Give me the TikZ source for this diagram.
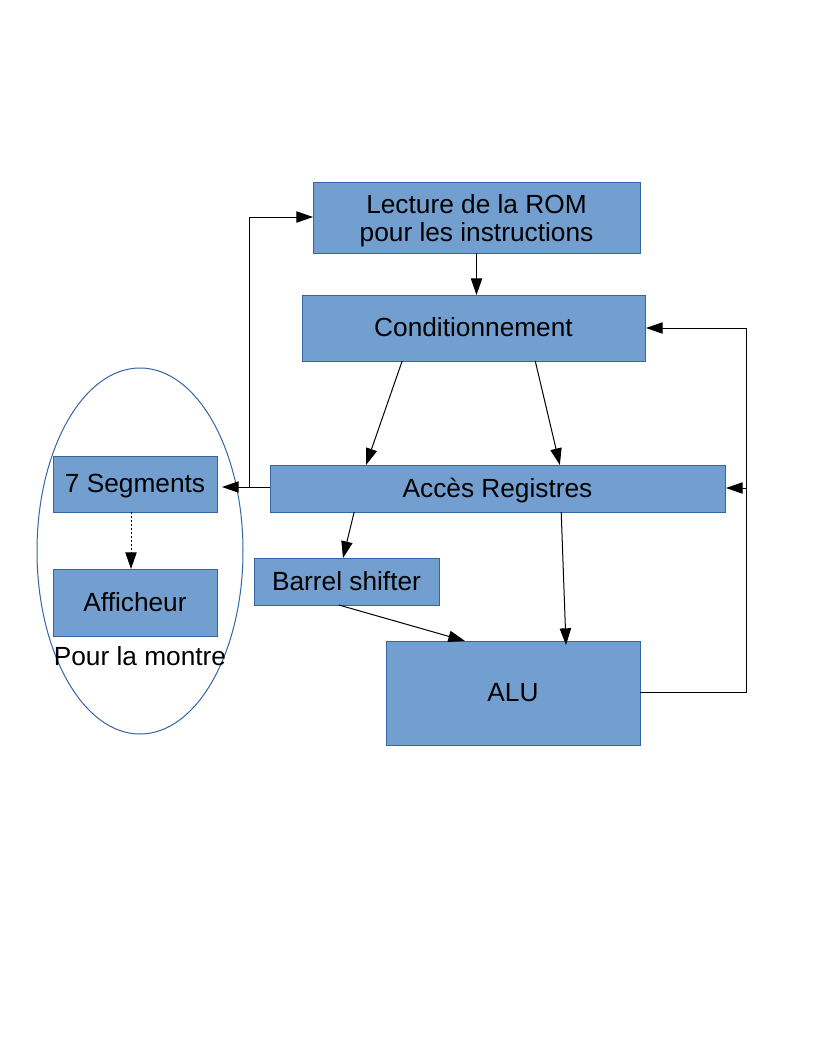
\documentclass[tikz,border=0pt]{standalone}
\usepackage{fontspec}
\setmainfont{Liberation Sans}
\usetikzlibrary{arrows.meta,calc,shapes.geometric}
\definecolor{boxfill}{HTML}{729FCF}
\definecolor{boxline}{HTML}{3465A4}
\begin{document}
\begin{tikzpicture}[x=0.75pt,y=-0.75pt,
  blk/.style={draw=boxline,fill=boxfill,line width=0.75pt,inner sep=0pt,outer sep=0pt,
    font=\fontsize{19.7}{21}\selectfont,align=center,text height=13pt,text depth=0pt},
  blktwo/.style={draw=boxline,fill=boxfill,line width=0.75pt,inner sep=0pt,outer sep=0pt,
    font=\fontsize{19.7}{21}\selectfont,align=center},
  conn/.style={line width=0.75pt,-{Triangle[length=12.5pt,width=8.5pt]}},
  plain/.style={line width=0.75pt}]
\useasboundingbox (0,0) rectangle (816,1056);
\fill[white] (0,0) rectangle (816,1056);
% ellipse
\node[draw=boxline,line width=0.75pt,ellipse,minimum width=154.5pt,minimum height=274.5pt,inner sep=0pt] (ell) at (140,551) {};
% boxes
\node[blktwo,minimum width=245.25pt,minimum height=53.25pt] (rom) at (476.5,217.5) {};
\node[font=\fontsize{19.7}{21}\selectfont,align=center,inner sep=0pt] (romtxt) at (476.5,220.5) {Lecture de la ROM\\pour les instructions};
\node[blk,minimum width=257.25pt,minimum height=49.5pt] (cond) at (473.5,328) {Conditionnement};
\node[blk,minimum width=341.25pt,minimum height=35.25pt] (acc) at (497.5,488.5) {Accès Registres};
\node[blk,minimum width=123pt,minimum height=42pt] (seg) at (135,484) {7 Segments};
\node[blk,minimum width=123pt,minimum height=50.25pt] (aff) at (135,602.5) {Afficheur};
\node[blk,minimum width=138.75pt,minimum height=35.25pt] (bar) at (346.5,581.5) {Barrel shifter};
\node[blk,minimum width=190.5pt,minimum height=78pt] (alu) at (513,693) {ALU};
\node[font=\fontsize{19.7}{21}\selectfont,anchor=base,inner sep=0pt] (pour) at (140,665) {Pour la montre};
% helper coordinates
\coordinate (segR) at (222,487);
\coordinate (accL) at (270,487);
\coordinate (jL) at (249,487);
\coordinate (jLtop) at (249,217);
\coordinate (romL) at (313,217);
\coordinate (aluR) at (640,692);
\coordinate (jR) at (746,692);
\coordinate (jRtop) at (746,328);
\coordinate (jRmid) at (746,488);
\coordinate (condR) at (646,328);
\coordinate (accR) at (726,488);
\coordinate (segB) at (131,512);
\coordinate (affT) at (131,569);
% connectors
\draw[conn] (rom.south) -- (rom.south |- cond.north);
\draw[conn] ($(cond.south west)!0.292!(cond.south east)$) -- ($(acc.north west)!0.211!(acc.north east)$);
\draw[conn] ($(cond.south west)!0.680!(cond.south east)$) -- ($(acc.north west)!0.637!(acc.north east)$);
\draw[conn] (accL) -- (segR);
\draw[conn] (jL) -- (jLtop) -- (romL);
\draw[plain] (aluR) -- (jR) -- (jRtop);
\draw[conn] (jRtop) -- (condR);
\draw[conn] (jRmid) -- (accR);
\draw[conn] ($(acc.south west)!0.185!(acc.south east)$) -- ($(bar.north west)!0.481!(bar.north east)$);
\draw[conn] ($(acc.south west)!0.640!(acc.south east)$) -- (566,645);
\draw[conn] ($(bar.south west)!0.459!(bar.south east)$) -- (465,641);
\draw[conn,dash pattern=on 1.5pt off 1.5pt] (segB) -- (affT);
\end{tikzpicture}
\end{document}
